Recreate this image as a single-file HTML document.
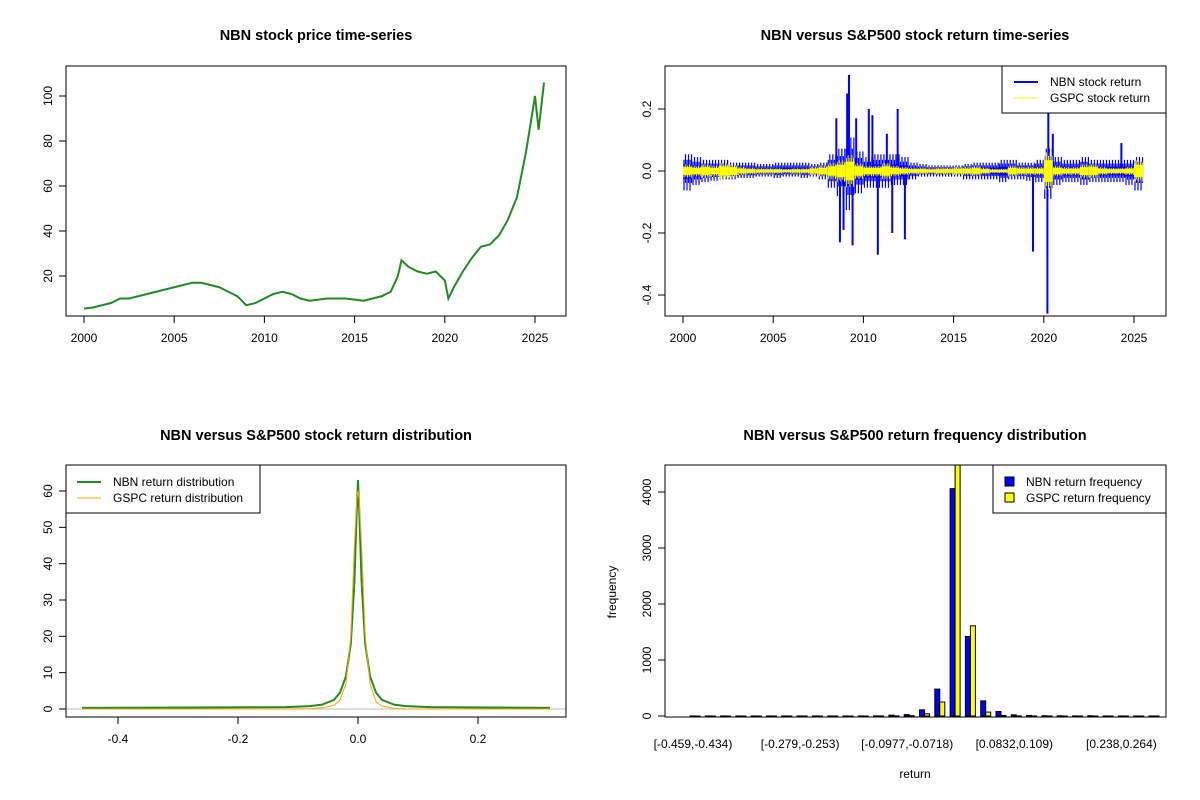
<!DOCTYPE html>
<html><head><meta charset="utf-8">
<style>
body{margin:0;background:#fff;}
svg{display:block;font-family:"Liberation Sans",Arial,sans-serif;}
.t{font-weight:bold;font-size:14.5px;text-anchor:middle;}
.tk{font-size:12px;}
</style></head>
<body>
<svg id="c" width="1200" height="800" xmlns="http://www.w3.org/2000/svg"></svg>
<script>
// ---- data ----
const priceYears=[2000,2000.5,2001,2001.5,2002,2002.5,2003,2003.5,2004,2004.5,2005,2005.5,2006,2006.5,2007,2007.5,2008,2008.5,2009,2009.5,2010,2010.5,2011,2011.5,2012,2012.5,2013,2013.5,2014,2014.5,2015,2015.5,2016,2016.5,2017,2017.4,2017.6,2018,2018.5,2019,2019.5,2020,2020.2,2020.5,2021,2021.5,2022,2022.5,2023,2023.5,2024,2024.5,2025,2025.2,2025.5];
const priceValues=[5.5,6,7,8,10,10,11,12,13,14,15,16,17,17,16,15,13,11,7,8,10,12,13,12,10,9,9.5,10,10,10,9.5,9,10,11,13,20,27,24,22,21,22,18,10,15,22,28,33,34,38,45,55,75,100,85,106];
const retYears=[2000,2000.5,2001,2001.5,2002,2002.5,2003,2003.5,2004,2004.5,2005,2005.5,2006,2006.5,2007,2007.5,2008,2008.5,2009,2009.5,2010,2010.5,2011,2011.5,2012,2012.5,2013,2013.5,2014,2014.5,2015,2015.5,2016,2016.5,2017,2017.5,2018,2018.5,2019,2019.5,2020,2020.5,2021,2021.5,2022,2022.5,2023,2023.5,2024,2024.5,2025];
const nbnHi=[0.06,0.05,0.04,0.04,0.04,0.03,0.03,0.03,0.025,0.025,0.03,0.03,0.03,0.03,0.025,0.03,0.06,0.08,0.12,0.07,0.05,0.06,0.06,0.06,0.05,0.03,0.025,0.02,0.02,0.02,0.02,0.025,0.03,0.03,0.03,0.04,0.04,0.03,0.03,0.04,0.08,0.05,0.04,0.04,0.05,0.04,0.04,0.04,0.04,0.04,0.05];
const nbnLo=[-0.07,-0.05,-0.04,-0.035,-0.03,-0.03,-0.025,-0.025,-0.02,-0.02,-0.025,-0.02,-0.02,-0.025,-0.02,-0.03,-0.06,-0.09,-0.14,-0.08,-0.06,-0.06,-0.06,-0.05,-0.05,-0.03,-0.02,-0.02,-0.02,-0.02,-0.02,-0.03,-0.03,-0.03,-0.03,-0.04,-0.03,-0.03,-0.035,-0.04,-0.1,-0.05,-0.04,-0.04,-0.05,-0.04,-0.04,-0.04,-0.04,-0.05,-0.07];
const gspcAmp=[0.025,0.02,0.025,0.02,0.03,0.025,0.015,0.012,0.01,0.01,0.01,0.008,0.01,0.01,0.015,0.02,0.03,0.04,0.06,0.03,0.02,0.02,0.03,0.02,0.015,0.012,0.012,0.01,0.012,0.012,0.015,0.015,0.018,0.012,0.008,0.008,0.02,0.015,0.015,0.015,0.07,0.02,0.015,0.015,0.025,0.025,0.015,0.012,0.012,0.015,0.04];
const spikeYears=[2008.5,2008.7,2008.9,2009.1,2009.2,2009.4,2009.6,2010.3,2010.5,2010.8,2011.3,2011.6,2011.9,2012.3,2019.4,2020.2,2020.25,2020.5,2024.3];
const spikeValues=[0.17,-0.23,-0.19,0.25,0.31,-0.24,0.17,0.2,0.18,-0.27,0.12,-0.2,0.2,-0.22,-0.26,-0.46,0.2,0.12,0.09];
const densX=[-0.46,-0.12,-0.08,-0.06,-0.04,-0.03,-0.02,-0.012,-0.006,-0.002,0,0.002,0.006,0.012,0.02,0.03,0.04,0.06,0.08,0.12,0.32];
const densNBN=[0.3,0.5,0.8,1.2,2.5,4.5,9,18,35,55,63,55,35,18,9,4.5,2.5,1.2,0.8,0.5,0.3];
const densGSPC=[0,0,0.1,0.3,1,2.5,7,20,45,58,60,58,45,20,7,2,0.8,0.2,0.05,0,0];
const histNBN=[1,1,1,1,1,1,1,1,1,1,1,2,3,15,25,110,480,4060,1420,270,80,20,10,5,4,2,5,1,1,1,1];
const histGSPC=[0,0,0,0,0,0,0,0,0,0,0,0,1,3,5,40,250,4700,1610,70,10,2,1,1,0,0,0,0,0,0,0];
const histLabels=["[-0.459,-0.434)","[-0.279,-0.253)","[-0.0977,-0.0718)","[0.0832,0.109)","[0.238,0.264)"];
const histLabelIdx=[0,7,14,21,28];

// ---- helpers ----
const S=document.getElementById('c');
const NS='http://www.w3.org/2000/svg';
function el(tag,attrs,parent){const e=document.createElementNS(NS,tag);for(const k in attrs)e.setAttribute(k,attrs[k]);(parent||S).appendChild(e);return e;}
function txt(x,y,s,cls,extra,parent){const e=el('text',Object.assign({x:x,y:y,class:cls},extra||{}),parent);e.textContent=s;return e;}
function lin(d0,d1,r0,r1){return v=>r0+(v-d0)*(r1-r0)/(d1-d0);}
function frame(x0,y0,x1,y1,name){const g=el('g',{});el('rect',{x:x0,y:y0,width:x1-x0,height:y1-y0,fill:'none',stroke:'#000','stroke-width':1},g);return g;}
function xAxis(ticks,fx,y,labels,name){const g=el('g',{});
 ticks.forEach((t,i)=>{const x=fx(t);el('line',{x1:x,y1:y,x2:x,y2:y+7,stroke:'#000'},g);txt(x,y+26,labels[i],'tk',{'text-anchor':'middle'},g);});
 el('line',{x1:fx(ticks[0]),y1:y,x2:fx(ticks[ticks.length-1]),y2:y,stroke:'#000'},g);return g;}
function yAxis(ticks,fy,x,labels,name){const g=el('g',{});
 ticks.forEach((t,i)=>{const y=fy(t);el('line',{x1:x,y1:y,x2:x-7,y2:y,stroke:'#000'},g);txt(x-14,y,labels[i],'tk',{'text-anchor':'middle',transform:`rotate(-90 ${x-14} ${y})`},g);});
 el('line',{x1:x,y1:fy(ticks[0]),x2:x,y2:fy(ticks[ticks.length-1]),stroke:'#000'},g);return g;}

// ---- Panel 1: price ----
{
 const fx=lin(2000,2025,84,535), fy=lin(20,100,276,96);
 const t=txt(316,40,'NBN stock price time-series','t');
 const p=el('polyline',{points:priceYears.map((y,i)=>fx(y)+','+fy(priceValues[i])).join(' '),fill:'none',stroke:'#228B22','stroke-width':2});
 
 frame(66,66,566,316,'price-plot-frame');
 xAxis([2000,2005,2010,2015,2020,2025],fx,316,['2000','2005','2010','2015','2020','2025'],'price-x-axis');
 yAxis([20,40,60,80,100],fy,66,['20','40','60','80','100'],'price-y-axis');
}
// ---- Panel 2: returns ----
{
 const fx=lin(2000,2025,683,1134), fy=lin(0,0.2,171,109);
 const t=txt(915,40,'NBN versus S&P500 stock return time-series','t');
 const g=el('g',{});
 retYears.forEach((y,i)=>{const x0=fx(y),x1=fx(Math.min(y+0.5,2025.6));el('rect',{x:x0,y:fy(nbnHi[i]*0.35),width:x1-x0,height:fy(nbnLo[i]*0.35)-fy(nbnHi[i]*0.35),fill:'#0000FF'},g);
  for(let k=0;k<6;k++){const xx=x0+(x1-x0)*k/6+1;el('line',{x1:xx,x2:xx,y1:fy(nbnHi[i]*(k%2?0.9:0.6)),y2:fy(nbnLo[i]*(k%2?0.55:0.9)),stroke:'#0000FF','stroke-width':1.2},g);}});
 spikeYears.forEach((y,i)=>el('line',{x1:fx(y),x2:fx(y),y1:fy(0),y2:fy(spikeValues[i]),stroke:'#0000FF','stroke-width':2},g));
 const g2=el('g',{});
 retYears.forEach((y,i)=>{const x0=fx(y),x1=fx(Math.min(y+0.5,2025.6));el('rect',{x:x0,y:fy(gspcAmp[i]*0.5),width:x1-x0,height:fy(-gspcAmp[i]*0.5)-fy(gspcAmp[i]*0.5),fill:'#FFFF00'},g2);
  for(let k=0;k<5;k++){const xx=x0+(x1-x0)*k/5+1;el('line',{x1:xx,x2:xx,y1:fy(gspcAmp[i]*(k%2?0.85:0.7)),y2:fy(-gspcAmp[i]*(k%2?0.7:0.85)),stroke:'#FFFF00','stroke-width':1},g2);}});
 frame(665,66,1166,316,'return-plot-frame');
 xAxis([2000,2005,2010,2015,2020,2025],fx,316,['2000','2005','2010','2015','2020','2025'],'return-x-axis');
 yAxis([-0.4,-0.2,0,0.2],fy,665,['-0.4','-0.2','0.0','0.2'],'return-y-axis');
 const L=el('g',{});
 el('rect',{x:1002,y:66,width:164,height:47,fill:'#fff',stroke:'#000'},L);
 el('line',{x1:1014,x2:1038,y1:82,y2:82,stroke:'#0000FF','stroke-width':2},L);
 el('line',{x1:1014,x2:1038,y1:98,y2:98,stroke:'#FFFF00','stroke-width':1},L);
 txt(1050,86,'NBN stock return','tk',{},L);txt(1050,102,'GSPC stock return','tk',{},L);
}
// ---- Panel 3: density ----
{
 const fx=lin(0,0.2,358,478), fy=lin(0,60,709,491);
 const t=txt(316,440,'NBN versus S&P500 stock return distribution','t');
 const base=el('line',{x1:66,x2:566,y1:fy(0),y2:fy(0),stroke:'#BEBEBE'});
 const p1=el('polyline',{points:densX.map((x,i)=>fx(x)+','+fy(densNBN[i])).join(' '),fill:'none',stroke:'#228B22','stroke-width':2});
 
 const p2=el('polyline',{points:densX.map((x,i)=>fx(x)+','+fy(densGSPC[i])).join(' '),fill:'none',stroke:'#FFA500','stroke-width':1});
 
 frame(66,465,566,717,'distribution-plot-frame');
 xAxis([-0.4,-0.2,0,0.2],fx,717,['-0.4','-0.2','0.0','0.2'],'distribution-x-axis');
 yAxis([0,10,20,30,40,50,60],fy,66,['0','10','20','30','40','50','60'],'distribution-y-axis');
 const L=el('g',{});
 el('rect',{x:66,y:465,width:194,height:48,fill:'#fff',stroke:'#000'},L);
 el('line',{x1:77,x2:101,y1:482,y2:482,stroke:'#228B22','stroke-width':2},L);
 el('line',{x1:77,x2:101,y1:498,y2:498,stroke:'#FFA500','stroke-width':1},L);
 txt(113,486,'NBN return distribution','tk',{},L);txt(113,502,'GSPC return distribution','tk',{},L);
}
// ---- Panel 4: histogram ----
{
 const fb=lin(0,30,693,1152), fy=lin(0,4000,716,492);
 const t=txt(915,440,'NBN versus S&P500 return frequency distribution','t');
 const cp=el('clipPath',{id:'hc'});el('rect',{x:665,y:465,width:501,height:252},cp);
 const g=el('g',{'clip-path':'url(#hc)'});
 histNBN.forEach((v,i)=>{const c=fb(i)+2;
  const b=el('rect',{x:c-5,y:fy(v),width:5,height:Math.max(fy(0)-fy(v),0.5),fill:'#0000FF',stroke:'#000','stroke-width':1},g);
  
  const b2=el('rect',{x:c,y:fy(histGSPC[i]),width:5,height:Math.max(fy(0)-fy(histGSPC[i]),0.5),fill:'#FFFF00',stroke:'#000','stroke-width':1},g);
  });
 frame(665,465,1166,717,'frequency-plot-frame');
 const xa=el('g',{});
 histLabelIdx.forEach((k,i)=>txt(fb(k),748,histLabels[i],'tk',{'text-anchor':'middle'},xa));
 yAxis([0,1000,2000,3000,4000],fy,665,['0','1000','2000','3000','4000'],'frequency-y-axis');
 const xl=txt(915,778,'return','tk',{'text-anchor':'middle','font-size':'11px'});
 const yl=txt(616,592,'frequency','tk',{'text-anchor':'middle','font-size':'11px',transform:'rotate(-90 616 592)'});
 const L=el('g',{});
 el('rect',{x:993,y:465,width:173,height:48,fill:'#fff',stroke:'#000'},L);
 el('rect',{x:1005,y:477,width:9,height:9,fill:'#0000FF',stroke:'#000'},L);
 el('rect',{x:1005,y:493,width:9,height:9,fill:'#FFFF00',stroke:'#000'},L);
 txt(1026,486,'NBN return frequency','tk',{},L);txt(1026,502,'GSPC return frequency','tk',{},L);
}
</script>
</body></html>
